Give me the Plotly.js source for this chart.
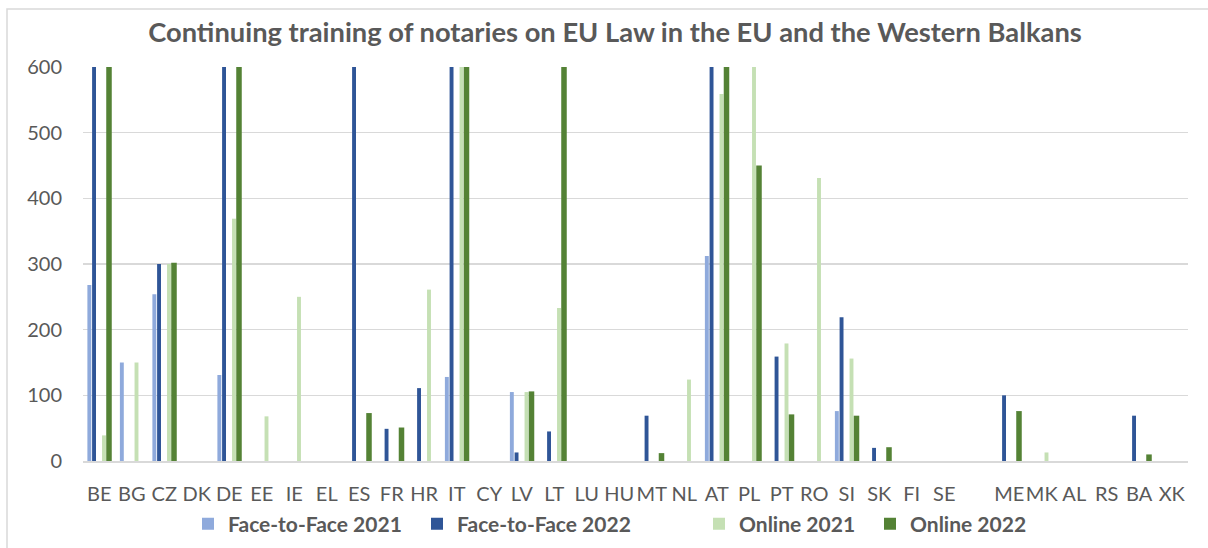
<!DOCTYPE html>
<html>
<head>
<meta charset="utf-8">
<script src="https://cdn.plot.ly/plotly-3.0.1.min.js"></script>
<style>html,body{margin:0;padding:0;background:#fff;}#chart{width:1208px;height:548px;}</style>
</head>
<body>
<div id="chart"></div>
<script>
// Categories (blank slot between SE and ME as in the source)
const categories = ["BE","BG","CZ","DK","DE","EE","IE","EL","ES","FR","HR","IT","CY","LV","LT","LU","HU","MT","NL","AT","PL","PT","RO","SI","SK","FI","SE","","ME","MK","AL","RS","BA","XK"];

// Values (bars above 600 are cut off by the axis; their heights are estimates)
const faceToFace2021 = [268,150,254,0,131,0,0,0,0,0,0,128,0,105,0,0,0,0,0,312,0,0,0,76,0,0,0,null,0,0,0,0,0,0];
const faceToFace2022 = [900,0,300,0,1200,0,0,0,700,49,111,1500,0,13,45,0,0,69,0,800,0,159,0,219,20,0,0,null,100,0,0,0,69,0];
const online2021     = [39,150,300,0,369,68,250,0,0,0,261,700,0,105,233,0,0,0,124,559,620,179,431,156,0,0,0,null,0,13,0,0,0,0];
const online2022     = [1000,0,302,0,1100,0,0,0,73,51,0,1300,0,106,700,0,0,12,0,900,450,71,0,69,21,0,0,null,76,0,0,0,10,0];

const seriesNames = ["Face-to-Face 2021","Face-to-Face 2022","Online 2021","Online 2022"];
const yTicks = [0,100,200,300,400,500,600];

const xIdx = categories.map((c, i) => i);
const txt = '#595959';
const FONT = 'Lato, "Open Sans", sans-serif';

const styles = [
  {color:'#8FAADC', offset:-0.365, width:0.12, legend:'legend'},
  {color:'#2F5597', offset:-0.22,  width:0.12, legend:'legend2'},
  {color:'#C5E0B4', offset:0.086,  width:0.12, legend:'legend3'},
  {color:'#548235', offset:0.215,  width:0.17, legend:'legend4'}
];
const allSeries = [faceToFace2021, faceToFace2022, online2021, online2022];

const traces = allSeries.map((vals, k) => ({
  type:'bar',
  name: seriesNames[k],
  x: xIdx,
  y: vals,
  offset: styles[k].offset,
  width: styles[k].width,
  marker:{color: styles[k].color, line:{width:0}},
  legend: styles[k].legend,
  hoverinfo:'x+y+name'
}));

const legBase = {
  orientation:'h', xref:'container', yref:'container',
  y: 1 - 524/548, yanchor:'middle', xanchor:'left',
  bgcolor:'rgba(0,0,0,0)',
  font:{family:FONT, size:21, color:txt, weight:700}
};

const layout = {
  width:1208, height:548,
  margin:{l:83, r:20, t:67, b:87},
  paper_bgcolor:'#ffffff', plot_bgcolor:'#ffffff',
  barmode:'overlay',
  showlegend:true,
  title:{
    text:'Continuing training of notaries on EU Law in the EU and the Western Balkans',
    font:{family:FONT, size:27.3, color:txt, weight:700},
    xref:'container', x: 615/1208, xanchor:'center',
    yref:'container', y: 1 - 32/548, yanchor:'middle'
  },
  xaxis:{
    range:[-0.5, categories.length - 0.5],
    tickmode:'array', tickvals:xIdx, ticktext:categories,
    tickangle:0,
    showgrid:false, zeroline:false,
    showline:true, linecolor:'#d9d9d9', linewidth:2,
    ticks:'', ticklabelstandoff:14,
    tickfont:{family:FONT, size:20, color:txt},
    fixedrange:true
  },
  yaxis:{
    range:[0,600], tickmode:'array', tickvals:yTicks,
    showgrid:true, gridcolor:'#d9d9d9', gridwidth:1.5,
    zeroline:false, showline:false, ticks:'',
    ticklabelstandoff:20,
    tickfont:{family:FONT, size:20, color:txt},
    fixedrange:true
  },
  legend: Object.assign({}, legBase, {x:188/1208}),
  legend2: Object.assign({}, legBase, {x:417/1208}),
  legend3: Object.assign({}, legBase, {x:699/1208}),
  legend4: Object.assign({}, legBase, {x:870/1208}),
  shapes:[{
    type:'rect', xref:'paper', yref:'paper',
    x0:(7-83)/1105, x1:1.3, y0:-0.5, y1:(461-9)/394,
    line:{color:'#d9d9d9', width:1.5}, fillcolor:'rgba(0,0,0,0)', layer:'below'
  }]
};

Plotly.newPlot('chart', traces, layout, {displayModeBar:false, staticPlot:true});
</script>
</body>
</html>
